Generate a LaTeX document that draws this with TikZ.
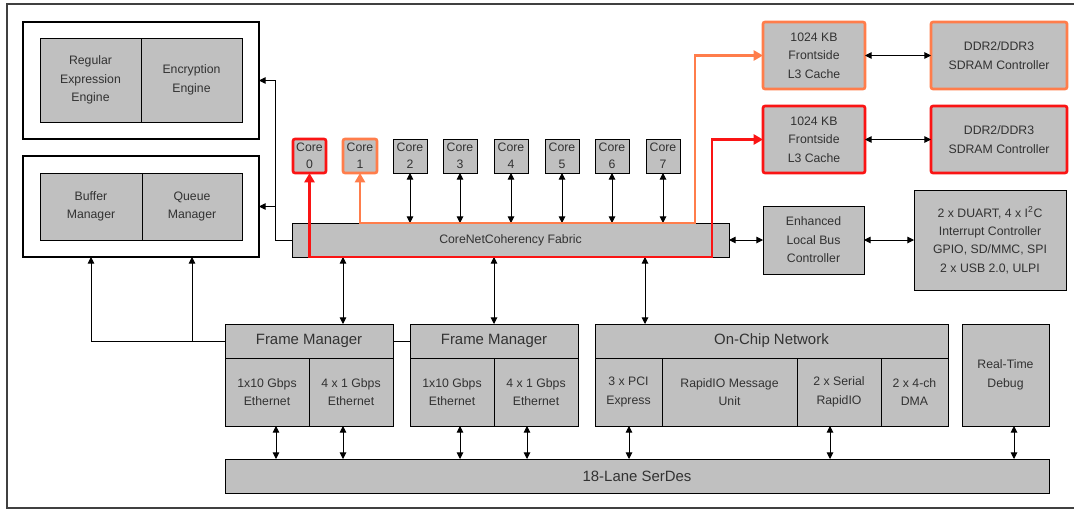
\documentclass[tikz,border=0pt]{standalone}
\usepackage{fontspec}
\setmainfont{Liberation Sans}
\usetikzlibrary{arrows.meta,calc}
\definecolor{boxgray}{RGB}{192,192,192}
\definecolor{corange}{RGB}{255,125,75}
\definecolor{cred}{RGB}{250,20,20}
\definecolor{txt}{RGB}{50,50,50}
\begin{document}
\begin{tikzpicture}[x=0.75pt,y=-0.75pt,
  rect/.style args={#1/#2/#3/#4}{minimum width={(#3-#1)*0.75pt}, minimum height={(#4-#2)*0.75pt}, at={({(#1+#3)/2},{(#2+#4)/2})}},
  gbox/.style={draw=black,fill=boxgray,line width=0.7pt,inner sep=0pt,outer sep=0pt,align=center,text=txt,font=\fontsize{9.2}{13.8}\selectfont},
  wbox/.style={draw=black,fill=white,line width=0.8pt,inner sep=0pt,outer sep=0pt},
  hdr/.style={gbox,font=\fontsize{11.2}{13}\selectfont},
  corebox/.style={gbox,font=\fontsize{9.2}{12.5}\selectfont},
  obox/.style={draw=corange,line width=2pt,rounded corners=1.5pt},
  rbox/.style={draw=cred,line width=2pt,rounded corners=1.5pt},
  arr/.style={line width=0.7pt,-{Triangle[length=5pt,width=5pt]}},
  dbl/.style={line width=0.7pt,{Triangle[length=5pt,width=5pt]}-{Triangle[length=5pt,width=5pt]}},
  opath/.style={line width=2.2pt,draw=corange,{Triangle[length=7pt,width=7.5pt]}-{Triangle[length=7pt,width=7.5pt]}},
  rpath/.style={line width=2.2pt,draw=cred,{Triangle[length=7pt,width=7.5pt]}-{Triangle[length=7pt,width=7.5pt]}},
  frame/.style={draw=black!75,line width=1.1pt}
]
\useasboundingbox (0,0) rectangle (1074,510);
% outer frame
\draw[frame] (1074,4) -- (7,4) -- (7,508) -- (1074,508);

% top-left blocks
\node[wbox, rect=23/22/259/139] (A) {};
\node[gbox, rect=40/38/141/122] (regex) {Regular\\Expression\\Engine};
\node[gbox, rect=141/38/242/122] (enc) {Encryption\\Engine};
\node[wbox, rect=23/156/259/257] (B) {};
\node[gbox, rect=40/173/142/240] (buf) {Buffer\\Manager};
\node[gbox, rect=142/173/242/240] (que) {Queue\\Manager};

% fabric
\node[gbox, rect=292/223/729/257] (fabric) {CoreNetCoherency Fabric};

% cores
\node[corebox, rbox, rect=293/139/326/173] (core0) {Core\\0};
\node[corebox, obox, rect=343/139/377/173] (core1) {Core\\1};
\foreach \i/\x in {2/393,3/443,4/494,5/545,6/595,7/646}{
  \pgfmathsetmacro{\xr}{\x+34}
  \node[corebox, rect=\x/139/\xr/173] (core\i) {Core\\\i};
  \draw[dbl] (core\i.south) -- (core\i.south |- fabric.north);
}

% caches and DDR
\node[gbox, obox, rect=763/22/865/89] (l3a) {1024 KB\\Frontside\\L3 Cache};
\node[gbox, obox, rect=931/22/1067/89] (ddra) {DDR2/DDR3\\SDRAM Controller};
\node[gbox, rbox, rect=763/106/865/173] (l3b) {1024 KB\\Frontside\\L3 Cache};
\node[gbox, rbox, rect=931/106/1067/173] (ddrb) {DDR2/DDR3\\SDRAM Controller};
\draw[dbl] (l3a.east) -- (ddra.west);
\draw[dbl] (l3b.east) -- (ddrb.west);

% local bus and peripherals
\node[gbox, rect=763/206/864/274] (elbc) {Enhanced\\Local Bus\\Controller};
\node[gbox, rect=914/190/1066/290] (per) {2 x DUART, 4 x I\textsuperscript{2}C\\Interrupt Controller\\GPIO, SD/MMC, SPI\\2 x USB 2.0, ULPI};
\draw[dbl] (fabric.east) -- (elbc.west);
\draw[dbl] (elbc.east) -- (per.west);

% frame managers
\node[hdr, rect=225/324/393/358] (fmh1) {Frame Manager};
\node[gbox, rect=225/358/309/426] (eth10a) {1x10 Gbps\\Ethernet};
\node[gbox, rect=309/358/393/426] (eth1a) {4 x 1 Gbps\\Ethernet};
\node[hdr, rect=410/324/578/358] (fmh2) {Frame Manager};
\node[gbox, rect=410/358/494/426] (eth10b) {1x10 Gbps\\Ethernet};
\node[gbox, rect=494/358/578/426] (eth1b) {4 x 1 Gbps\\Ethernet};

% on-chip network
\node[hdr, rect=595/324/948/358] (ocn) {On-Chip Network};
\node[gbox, rect=595/358/662/426] (pci) {3 x PCI\\Express};
\node[gbox, rect=662/358/797/426] (rmu) {RapidIO Message\\Unit};
\node[gbox, rect=797/358/881/426] (srio) {2 x Serial\\RapidIO};
\node[gbox, rect=881/358/948/426] (dma) {2 x 4-ch\\DMA};
\node[gbox, rect=962/324/1049/426] (rtd) {Real-Time\\Debug};

% serdes
\node[hdr, rect=225/459/1049/493] (serdes) {18-Lane SerDes};

% column helper coordinates
\coordinate (c91) at (91,0);
\coordinate (c192) at (192,0);
\coordinate (c275) at (275,0);
\coordinate (c276) at (276,0);
\coordinate (c343) at (343,0);
\coordinate (c460) at (460,0);
\coordinate (c527) at (527,0);
\coordinate (c629) at (629,0);
\coordinate (c645) at (645,0);
\coordinate (c830) at (830,0);
\coordinate (c1014) at (1014,0);
\coordinate (oc) at (695,0);
\coordinate (rc) at (712,0);

% fabric to left blocks
\coordinate (j1) at (c275 |- fabric.west);
\draw[line width=0.7pt] (fabric.west) -- (j1);
\draw[arr] (j1) |- (A.east);
\draw[arr] (j1) |- (B.east);

% frame manager to buffer/queue managers
\draw[arr] (fmh1.west) -| (c91 |- B.south);
\draw[arr] (fmh1.west -| c192) -- (c192 |- B.south);
\draw[line width=0.7pt] (fmh1.east) -- (fmh2.west);

% fabric down
\draw[dbl] (fabric.south -| c343) -- (fmh1.north -| c343);
\draw[dbl] (fabric.south -| fmh2.north) -- (fmh2.north);
\draw[dbl] (fabric.south -| c645) -- (ocn.north -| c645);

% to serdes
\draw[dbl] (eth10a.south -| c276) -- (serdes.north -| c276);
\draw[dbl] (eth1a.south -| c343) -- (serdes.north -| c343);
\draw[dbl] (eth10b.south -| c460) -- (serdes.north -| c460);
\draw[dbl] (eth1b.south -| c527) -- (serdes.north -| c527);
\draw[dbl] (pci.south -| c629) -- (serdes.north -| c629);
\draw[dbl] (srio.south -| c830) -- (serdes.north -| c830);
\draw[dbl] (rtd.south -| c1014) -- (serdes.north -| c1014);

% highlighted paths
\draw[opath] (core1.south) |- (oc |- fabric.north) -- (oc |- l3a.west) -- (l3a.west);
\draw[rpath] (core0.south) |- (rc |- fabric.south) -- (rc |- l3b.west) -- (l3b.west);
\end{tikzpicture}
\end{document}
